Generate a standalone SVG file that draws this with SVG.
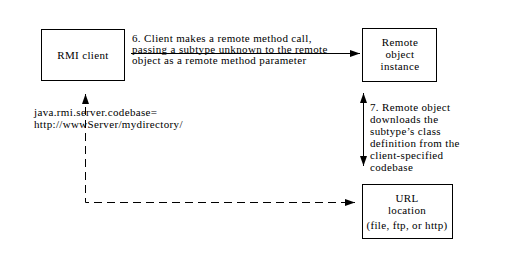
<svg xmlns="http://www.w3.org/2000/svg" width="507" height="263" viewBox="0 0 507 263">
<style>
  .box { fill: #fff; stroke: #000; stroke-width: 1; }
  .t { font-family: "Liberation Serif", "Times New Roman", serif; font-size: 11px; letter-spacing: 0.35px; fill: #000; }
  .c { text-anchor: middle; }
  .ln { stroke: #000; stroke-width: 1; fill: none; }
  .dash { stroke-dasharray: 8 5; }
</style>
<defs>
  <marker id="ah" viewBox="0 0 10 7" refX="10" refY="3.5" markerWidth="10" markerHeight="7" markerUnits="userSpaceOnUse" orient="auto-start-reverse">
    <path d="M0,0 L10,3.5 L0,7 Z" fill="#000"/>
  </marker>
</defs>
<rect width="507" height="263" fill="#fff"/>
<g id="connectors">
  <line class="ln" x1="131" y1="53.5" x2="360" y2="53.5" marker-end="url(#ah)"/>
  <line class="ln" x1="363.5" y1="93" x2="363.5" y2="166" marker-start="url(#ah)" marker-end="url(#ah)"/>
  <path class="ln dash" d="M85.5,94 V202.5 H355" marker-start="url(#ah)" marker-end="url(#ah)"/>
</g>
<g id="rmi-client">
  <rect class="box" x="41.5" y="29.5" width="83" height="51"/>
  <text class="t c" x="83" y="59">RMI client</text>
</g>
<g id="remote-object">
  <rect class="box" x="362.5" y="28.5" width="74" height="53"/>
  <text class="t c" x="400" y="46">Remote</text>
  <text class="t c" x="400" y="58">object</text>
  <text class="t c" x="400" y="70">instance</text>
</g>
<g id="url-location">
  <rect class="box" x="362.5" y="184.5" width="90" height="54"/>
  <text class="t c" x="407" y="202">URL</text>
  <text class="t c" x="407" y="214">location</text>
  <text class="t c" x="407" y="229">(file, ftp, or http)</text>
</g>
<g id="label-6">
  <text class="t" x="132" y="41.5">6. Client makes a remote method call,</text>
  <text class="t" x="132" y="52.5">passing a subtype unknown to the remote</text>
  <text class="t" x="132" y="64">object as a remote method parameter</text>
</g>
<g id="label-7">
  <text class="t" x="370" y="111">7. Remote object</text>
  <text class="t" x="370" y="123">downloads the</text>
  <text class="t" x="370" y="135">subtype’s class</text>
  <text class="t" x="370" y="147">definition from the</text>
  <text class="t" x="370" y="159">client-specified</text>
  <text class="t" x="370" y="171">codebase</text>
</g>
<g id="codebase-label">
  <text class="t" x="34" y="116">java.rmi.server.codebase=</text>
  <text class="t" x="34" y="128">http://wwwServer/mydirectory/</text>
</g>
</svg>
